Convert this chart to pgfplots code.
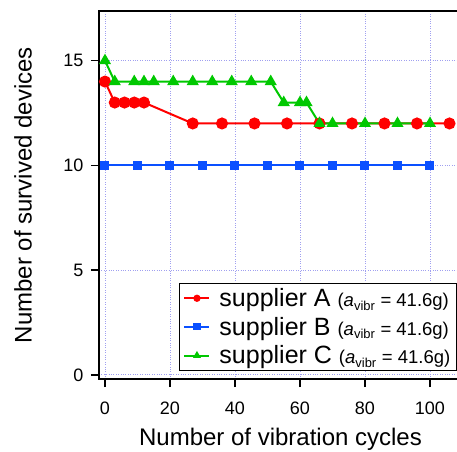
\documentclass[border=0pt]{standalone}
\usepackage{fontspec}
\setmainfont{Liberation Sans}
\usepackage{pgfplots}
\pgfplotsset{compat=1.18}
\definecolor{cA}{HTML}{FF0000}
\definecolor{cB}{HTML}{0A50FF}
\definecolor{cC}{HTML}{00C800}
\definecolor{cgrid}{HTML}{A0A0F0}
\newcommand{\cond}{{\fontsize{18.5}{18}\selectfont(\textit{a}\textsubscript{vibr} = 41.6g)}}

\begin{document}
\begin{tikzpicture}
\begin{axis}[
  width=363pt, height=368pt, scale only axis,
  xmin=-1.846, xmax=109.85, ymin=-0.2, ymax=17.37,
  xtick={0,20,...,100}, ytick={0,5,10,15},
  xtick pos=bottom, ytick pos=left,
  tick align=outside, major tick length=8pt,
  tick style={black, line width=1.4pt},
  axis line style={line width=1.4pt},
  grid=major, grid style={cgrid, dotted, line width=0.8pt},
  /pgf/number format/assume math mode=true,
  tick label style={font=\fontsize{18}{18}\selectfont},
  xticklabel style={yshift=-11pt},
  yticklabel style={xshift=-4pt},
  xlabel={Number of vibration cycles},
  ylabel={Number of survived devices},
  label style={font=\fontsize{24}{24}\selectfont},
  xlabel style={at={(axis description cs:0.5,-0.182)}, anchor=base},
  ylabel style={at={(axis description cs:-0.2094,0.5)}, anchor=center},
  legend style={at={(rel axis cs:0.22,0.022)}, anchor=south west,
    font=\fontsize{25}{25}\selectfont, draw=black, line width=1.2pt,
    fill=white, inner xsep=4pt, inner ysep=3pt, row sep=5pt,
    /tikz/every odd column/.append style={column sep=7pt}},
  legend cell align=left,
  legend image code/.code={\draw[mark repeat=2,mark phase=2,#1] plot coordinates {(0pt,0pt) (12.5pt,0pt) (25pt,0pt)};},
  legend image post style={mark size=2.6pt},
]
\addplot[cA, line width=2pt, mark=*, mark size=5pt] coordinates {
  (0,14) (3,13) (6,13) (9,13) (12,13) (27,12) (36,12) (46,12) (56,12)
  (66,12) (76,12) (86,12) (96,12) (106,12)};
\addlegendentry{supplier A \cond}
\addplot[cB, line width=2pt, mark=square*, mark size=3.5pt] coordinates {
  (0,10) (10,10) (20,10) (30,10) (40,10) (50,10) (60,10) (70,10)
  (80,10) (90,10) (100,10)};
\addlegendentry{supplier B \cond}
\addplot[cC, line width=2pt, mark=triangle*, mark size=5pt] coordinates {
  (0,15) (3,14) (9,14) (12,14) (15,14) (21,14) (27,14) (33,14) (39,14)
  (45,14) (51,14) (55,13) (60,13) (62,13) (66,12) (70,12) (80,12)
  (90,12) (100,12)};
\addlegendentry{supplier C \cond}
\coordinate (bl) at (rel axis cs:0,0);
\coordinate (tr) at (rel axis cs:1,1);
\end{axis}
\pgfresetboundingbox
\useasboundingbox ([xshift=-99pt,yshift=-72pt]bl) rectangle ([xshift=-5pt,yshift=11pt]tr);
\end{tikzpicture}
\end{document}
